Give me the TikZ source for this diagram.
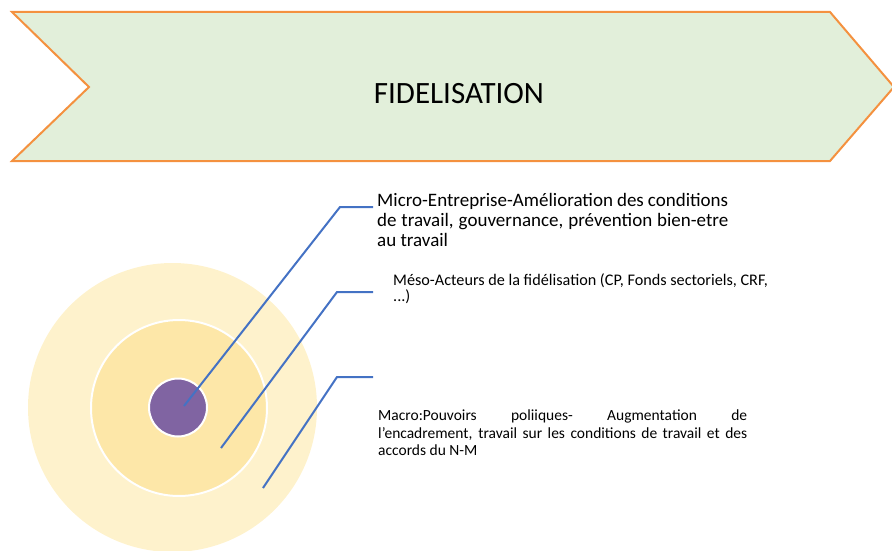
\documentclass[tikz,border=0pt]{standalone}
\usepackage{fontspec}
\setmainfont{Carlito}
\usetikzlibrary{positioning}
\definecolor{chevfill}{HTML}{E2EFDA}
\definecolor{chevline}{HTML}{F4913F}
\definecolor{outerring}{HTML}{FEF2CC}
\definecolor{midring}{HTML}{FDE7A8}
\definecolor{coreviolet}{HTML}{8064A2}
\definecolor{leadblue}{HTML}{4472C4}
\tikzset{
  ring/.style={circle,draw=white,line width=2pt,inner sep=0pt},
  leader/.style={draw=leadblue,line width=2pt},
  lbl/.style={anchor=north west,inner sep=0pt}
}
\begin{document}
\begin{tikzpicture}[x=1pt,y=-1pt]
\useasboundingbox (0,0) rectangle (892,551);
\clip (0,0) rectangle (892,551);
% bandeau
\draw[fill=chevfill,draw=chevline,line width=2pt]
  (12,12) -- (830,12) -- (894,87) -- (830,161) -- (12,161) -- (89,87) -- cycle;
\node[font=\fontsize{31}{36}\selectfont] (titre) at (459,94) {FIDELISATION};
% cercles
\node[ring,fill=outerring,draw=none,minimum size=289] (macro) at (172.5,407.5) {};
\node[ring,fill=midring,minimum size=176] (meso) at (179,408) {};
\node[ring,fill=coreviolet,minimum size=58] (micro) at (178,407.5) {};
% textes
\node[lbl,text width=351,align=justify,font=\fontsize{19}{20}\selectfont] (tmicro) at (377,193)
  {Micro-Entreprise-Amélioration des conditions\linebreak
   de travail, gouvernance, prévention bien-etre\linebreak au travail};
\node[lbl,align=left,font=\fontsize{16.2}{16}\selectfont] (tmeso) at (393,273)
  {Méso-Acteurs de la fidélisation (CP, Fonds sectoriels, CRF,\\ ...)};
\node[lbl,text width=369,align=justify,font=\fontsize{15.5}{17.5}\selectfont] (tmacro) at (378,410)
  {Macro:Pouvoirs poliiques- Augmentation de\linebreak
   l'encadrement, travail sur les conditions de travail et des\linebreak accords du N-M};
% traits
\coordinate (a1) at (184,406);
\coordinate (k1) at (340,207);
\coordinate (e1) at (373,207);
\coordinate (a2) at (221,448);
\coordinate (k2) at (337,292);
\coordinate (e2) at (373,292);
\coordinate (a3) at (263,488);
\coordinate (k3) at (337,377);
\coordinate (e3) at (373,377);
\draw[leader] (a1) -- (k1) -- (e1);
\draw[leader] (a2) -- (k2) -- (e2);
\draw[leader] (a3) -- (k3) -- (e3);
\end{tikzpicture}
\end{document}
